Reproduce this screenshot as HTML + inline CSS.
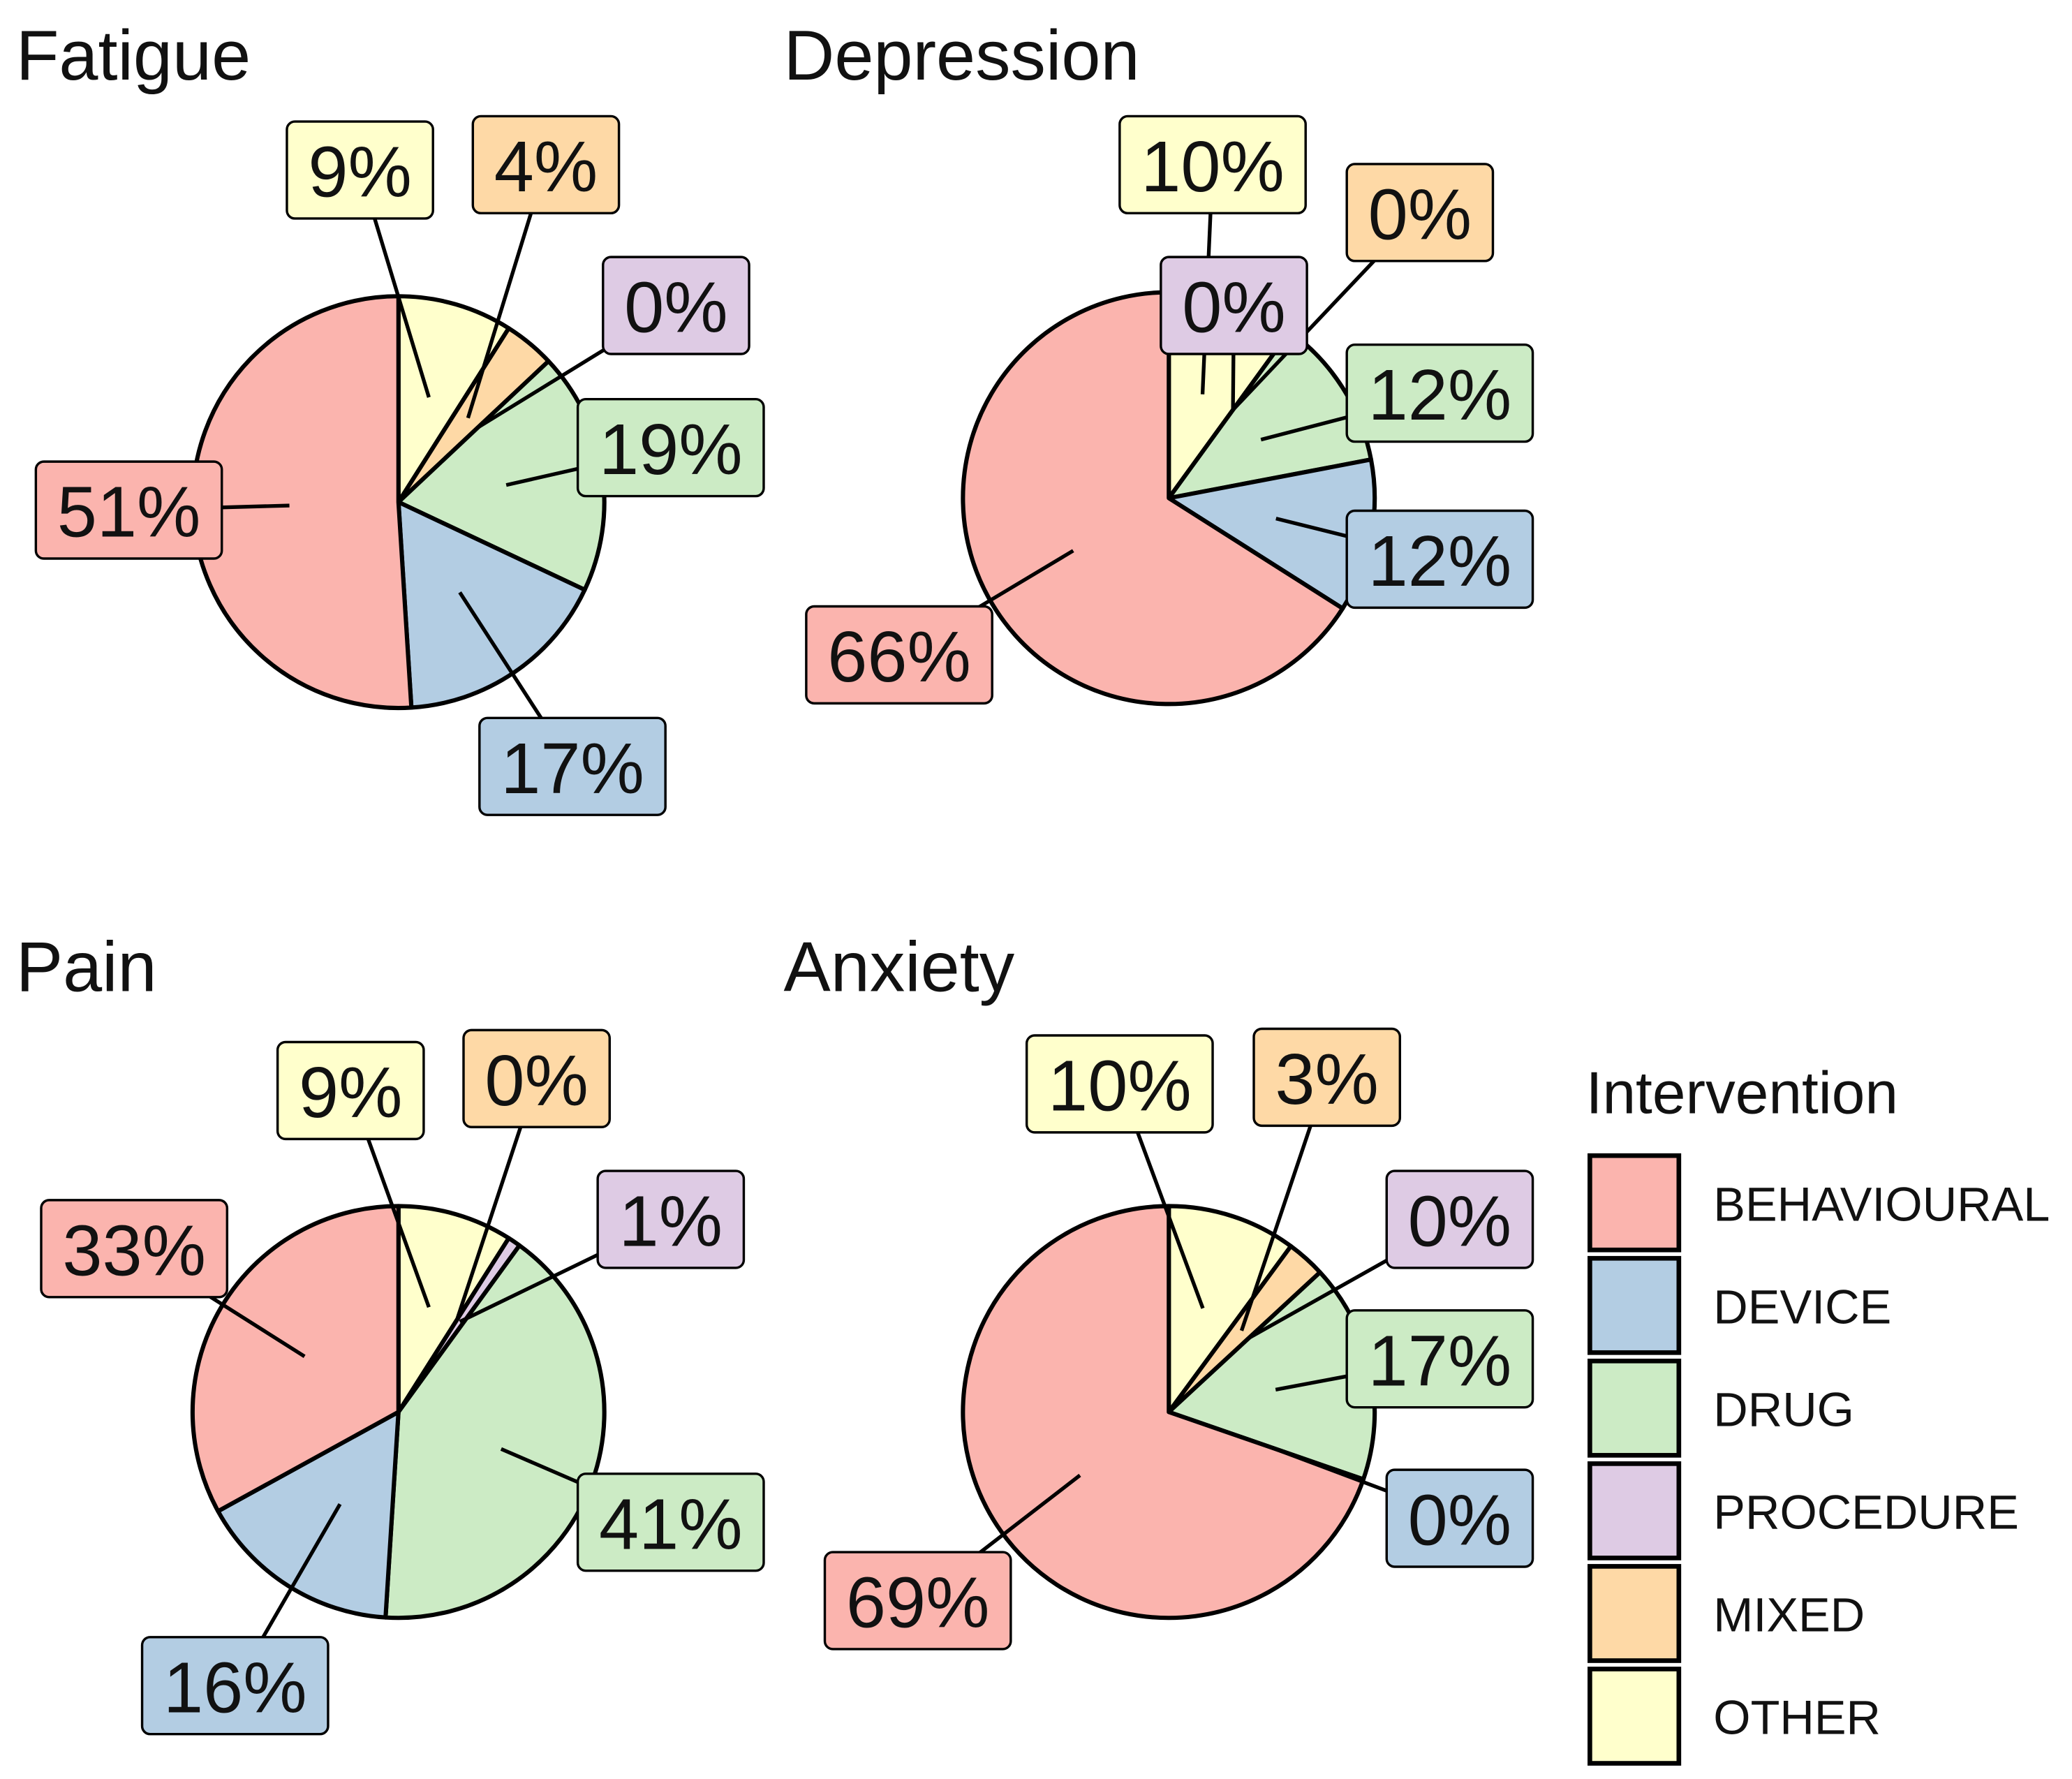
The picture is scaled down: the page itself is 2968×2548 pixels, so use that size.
<!DOCTYPE html>
<html>
<head>
<meta charset="utf-8">
<style>
html,body{margin:0;padding:0;background:#fff;}
svg{display:block;}
text{font-family:"Liberation Sans",sans-serif;fill:#111;}
</style>
</head>
<body>
<svg id="chart" width="2968" height="2548" viewBox="0 0 1560 1339.3" preserveAspectRatio="none" xmlns="http://www.w3.org/2000/svg">
</svg>
<script>
const categories = ["OTHER","MIXED","PROCEDURE","DRUG","DEVICE","BEHAVIOURAL"];
const fatigueValues = [9,4,0,19,17,51];
const depressionValues = [10,0,0,12,12,66];
const painValues = [9,0,1,41,16,33];
const anxietyValues = [10,3,0,17,0,69];
const legendOrder = ["BEHAVIOURAL","DEVICE","DRUG","PROCEDURE","MIXED","OTHER"];

const colors = {BEHAVIOURAL:"#FBB4AE",DEVICE:"#B3CDE3",DRUG:"#CCEBC5",PROCEDURE:"#DECBE4",MIXED:"#FED9A6",OTHER:"#FFFFCC"};
const NS = "http://www.w3.org/2000/svg";
const svg = document.getElementById("chart");

function mk(tag, attrs, parent){
  const e = document.createElementNS(NS, tag);
  for (const k in attrs) e.setAttribute(k, attrs[k]);
  (parent||svg).appendChild(e);
  return e;
}

const panels = [
  {title:"Fatigue", tx:12, ty:60, cx:300, cy:378, r:155, values:fatigueValues,
   labels:[[271,128],[411,124],[509,230],[505,337],[431,577],[97,384]]},
  {title:"Depression", tx:590, ty:60, cx:880, cy:375, r:155, values:depressionValues,
   labels:[[913,124],[1069,160],[929,230],[1084,296],[1084,421],[677,493]]},
  {title:"Pain", tx:12, ty:746, cx:300, cy:1063, r:155, values:painValues,
   labels:[[264,821],[404,812],[505,918],[505,1146],[177,1269],[101,940]]},
  {title:"Anxiety", tx:590, ty:746, cx:880, cy:1063, r:155, values:anxietyValues,
   labels:[[843,816],[999,811],[1099,918],[1084,1023],[1099,1143],[691,1205]]}
];

function pt(cx, cy, r, frac){
  const a = frac*2*Math.PI;
  return [cx + r*Math.sin(a), cy - r*Math.cos(a)];
}

panels.forEach(p => {
  const g = mk("g", {});
  const pname = p.title.toLowerCase();
  
  
  const t = mk("text", {x:p.tx, y:p.ty, "font-size":53}, g);
  t.textContent = p.title;
  
  
  const total = p.values.reduce((a,b)=>a+b,0);
  let cum = 0;
  const mids = [];
  p.values.forEach((v,i) => {
    const f0 = cum/total, f1 = (cum+v)/total;
    cum += v;
    mids.push((f0+f1)/2);
    if (v <= 0) return;
    const a = pt(p.cx,p.cy,p.r,f0), b = pt(p.cx,p.cy,p.r,f1);
    const large = (f1-f0) > 0.5 ? 1 : 0;
    const s = mk("path", {d:`M${p.cx},${p.cy} L${a[0]},${a[1]} A${p.r},${p.r} 0 ${large} 1 ${b[0]},${b[1]} Z`,
      fill:colors[categories[i]], stroke:"#000", "stroke-width":3.2, "stroke-linejoin":"round"}, g);
    
    
  });
  p.values.forEach((v,i) => {
    const s = pt(p.cx,p.cy,p.r*0.53,mids[i]);
    const l = mk("line", {x1:s[0], y1:s[1], x2:p.labels[i][0], y2:p.labels[i][1], stroke:"#000", "stroke-width":2.8}, g);
    
    
  });
  p.values.forEach((v,i) => {
    const txt = v + "%";
    const w = txt.length > 2 ? 140 : 110, h = 73;
    const [lx, ly] = p.labels[i];
    const lg = mk("g", {}, g);
    
    
    mk("rect", {x:lx-w/2, y:ly-h/2, width:w, height:h, rx:6, ry:6, fill:colors[categories[i]], stroke:"#000", "stroke-width":1.8}, lg);
    const tt = mk("text", {x:lx, y:ly+20, "font-size":54, "text-anchor":"middle"}, lg);
    tt.textContent = txt;
  });
});

const leg = mk("g", {});


const lt = mk("text", {x:1194, y:838, "font-size":45}, leg);
lt.textContent = "Intervention";


legendOrder.forEach((c,i) => {
  const y = 870 + i*77.3;
  const e = mk("g", {}, leg);
  
  
  mk("rect", {x:1197, y:y, width:67, height:71, fill:colors[c], stroke:"#000", "stroke-width":3.5}, e);
  const tx = mk("text", {x:1290, y:y+49, "font-size":36}, e);
  tx.textContent = c;
});
</script>
</body>
</html>
